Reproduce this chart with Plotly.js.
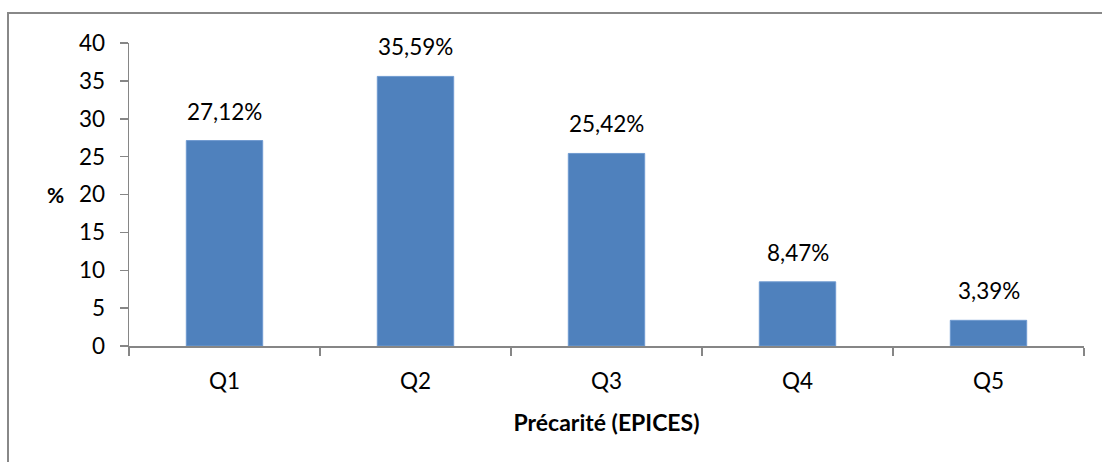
<!DOCTYPE html>
<html><head><meta charset="utf-8">
<script src="https://cdn.plot.ly/plotly-3.0.1.min.js"></script>
<style>html,body{margin:0;padding:0;background:#fff}#chart{width:1102px;height:462px}</style>
</head><body><div id="chart"></div>
<script>
const categories = ["Q1","Q2","Q3","Q4","Q5"];
const values = [27.12, 35.59, 25.42, 8.47, 3.39];
const yTicks = [0,5,10,15,20,25,30,35,40];

const fontFam = "Lato, 'Open Sans', sans-serif";
const axisColor = "#868686";

const labels = values.map(v => v.toFixed(2).replace(".", ",") + "%");

const trace = {
  type: "bar",
  x: categories,
  y: values,
  marker: {color: "#4F81BD", line: {color: "#6f9ad0", width: 1}},
  hoverinfo: "none"
};

const annotations = categories.map((c, i) => ({
  x: c, y: values[i], xref: "x", yref: "y",
  text: labels[i], showarrow: false, yanchor: "bottom", yshift: 14,
  font: {family: fontFam, size: 22.5, color: "#000"}
}));
annotations.push({
  xref: "paper", yref: "paper", x: -0.077, y: 0.5, xanchor: "center", yanchor: "middle",
  text: "<b>%</b>", showarrow: false, font: {family: fontFam, size: 21, color: "#000"}
});

const layout = {
  width: 1102, height: 462,
  margin: {l: 129, r: 18, t: 43, b: 116},
  paper_bgcolor: "#fff", plot_bgcolor: "#fff",
  showlegend: false,
  bargap: 0.6,
  font: {family: fontFam, size: 22, color: "#000"},
  xaxis: {
    type: "category",
    showline: true, linecolor: axisColor, linewidth: 1.5,
    ticks: "outside", tickson: "boundaries", ticklen: 8, tickcolor: axisColor, tickwidth: 1.5,
    tickfont: {family: fontFam, size: 22.5, color: "#000"},
    ticklabelstandoff: 14,
    title: {text: "<b>Précarité (EPICES)</b>", font: {family: fontFam, size: 23, color: "#000"}, standoff: 22},
    showgrid: false, zeroline: false, fixedrange: true
  },
  yaxis: {
    range: [0, 40], tickvals: yTicks, ticktext: yTicks.map(String),
    showline: true, linecolor: axisColor, linewidth: 1.5,
    ticks: "outside", ticklen: 8, tickcolor: axisColor, tickwidth: 1.5,
    tickfont: {family: fontFam, size: 22.5, color: "#000"},
    ticklabelstandoff: 10,
    showgrid: false, zeroline: false, fixedrange: true
  },
  annotations: annotations,
  shapes: [{
    type: "rect", xref: "paper", yref: "paper",
    x0: -0.1267, x1: 1.2, y0: -1, y1: 1.099,
    line: {color: "#888888", width: 2}, fillcolor: "rgba(0,0,0,0)", layer: "below"
  }]
};

Plotly.newPlot("chart", [trace], layout, {displayModeBar: false, staticPlot: true});
</script></body></html>
